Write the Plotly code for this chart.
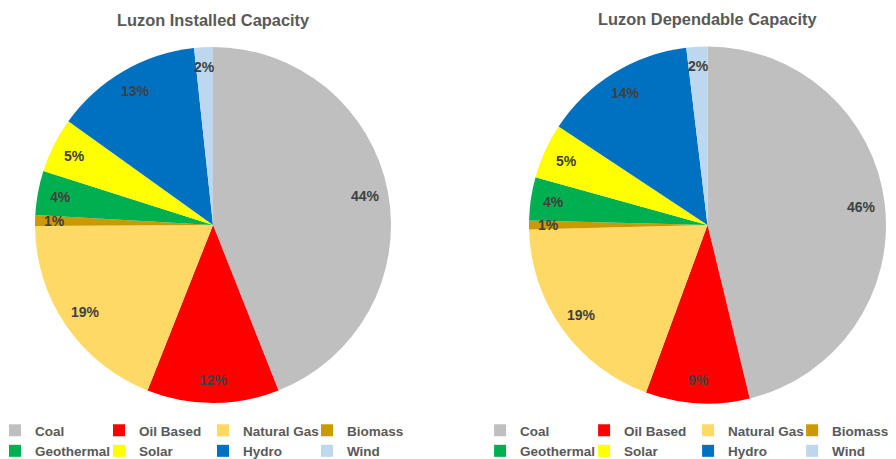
import math
import plotly.graph_objects as go

categories = ["Coal", "Oil Based", "Natural Gas", "Biomass", "Geothermal", "Solar", "Hydro", "Wind"]
installed_share = [44.0, 12.0, 18.9, 1.0, 4.0, 5.0, 13.4, 1.7]
dependable_share = [46.2, 9.4, 19.0, 0.8, 3.9, 5.0, 13.8, 1.9]
colors = ["#BFBFBF", "#FF0000", "#FFD966", "#CC9900", "#00B050", "#FFFF00", "#0070C0", "#BDD7EE"]
titles = ["Luzon Installed Capacity", "Luzon Dependable Capacity"]

W, H = 896, 459
ML, MR, MT, MB = 0, 8, 0, 0
PW, PH = W - ML - MR, H - MT - MB
OFF = 8  # page body margin of the browser

FONT = "Liberation Sans, Arial, sans-serif"


def px_x(px):
    return (px - OFF - ML) / PW


def px_y(py):
    return 1 - (py - OFF - MT) / PH


# pie placement (screen pixels): centre x, centre y, radius
pies = [(213.0, 225.0, 178.0), (707.5, 225.0, 178.5)]
title_y = [20, 19]

fig = go.Figure()
annotations = []
for i, (vals, (cx, cy, r)) in enumerate(zip([installed_share, dependable_share], pies)):
    fig.add_trace(go.Pie(
        labels=categories, values=vals, sort=False, direction="clockwise", rotation=0,
        marker=dict(colors=colors, line=dict(width=0)),
        textinfo="none", hoverinfo="label+percent",
        domain=dict(x=[px_x(cx - r), px_x(cx + r)], y=[px_y(cy + r), px_y(cy - r)]),
        legend="legend" if i == 0 else "legend2",
        legendgroup=f"pie{i}",
        showlegend=True,
    ))
    total = sum(vals)
    cum = 0.0
    for v in vals:
        mid = (cum + v / 2) / total * 2 * math.pi
        cum += v
        rr = (0.87 if v / total > 0.03 else 0.89) * r
        lx = cx + rr * math.sin(mid)
        ly = cy - rr * math.cos(mid)
        pct = math.floor(v / total * 100 + 0.5)
        annotations.append(dict(
            x=px_x(lx), y=px_y(ly), xref="paper", yref="paper", text=f"{pct}%",
            showarrow=False, xanchor="center", yanchor="middle",
            font=dict(family=FONT, size=14, color="#404040", weight="bold"),
        ))
    annotations.append(dict(
        x=px_x(cx), y=px_y(title_y[i]), xref="paper", yref="paper", text=titles[i],
        showarrow=False, xanchor="center", yanchor="middle",
        font=dict(family=FONT, size=16.4, color="#595959", weight="bold"),
    ))

legend_common = dict(
    orientation="h", entrywidth=59, entrywidthmode="pixels", traceorder="normal",
    font=dict(family=FONT, size=13.5, color="#595959", weight="bold"),
    bgcolor="rgba(0,0,0,0)", itemclick=False, itemdoubleclick=False,
    yanchor="bottom", y=0.0,
)

LEG1_LEFT = -5    # screen px

fig.update_layout(
    width=W, height=H,
    margin=dict(l=ML, r=MR, t=MT, b=MB, autoexpand=False),
    paper_bgcolor="white", plot_bgcolor="white",
    annotations=annotations,
    legend=dict(**legend_common, x=px_x(LEG1_LEFT), xanchor="left"),
    legend2=dict(**legend_common, x=1.0001, xanchor="right"),
)

fig.write_html("out.html")
